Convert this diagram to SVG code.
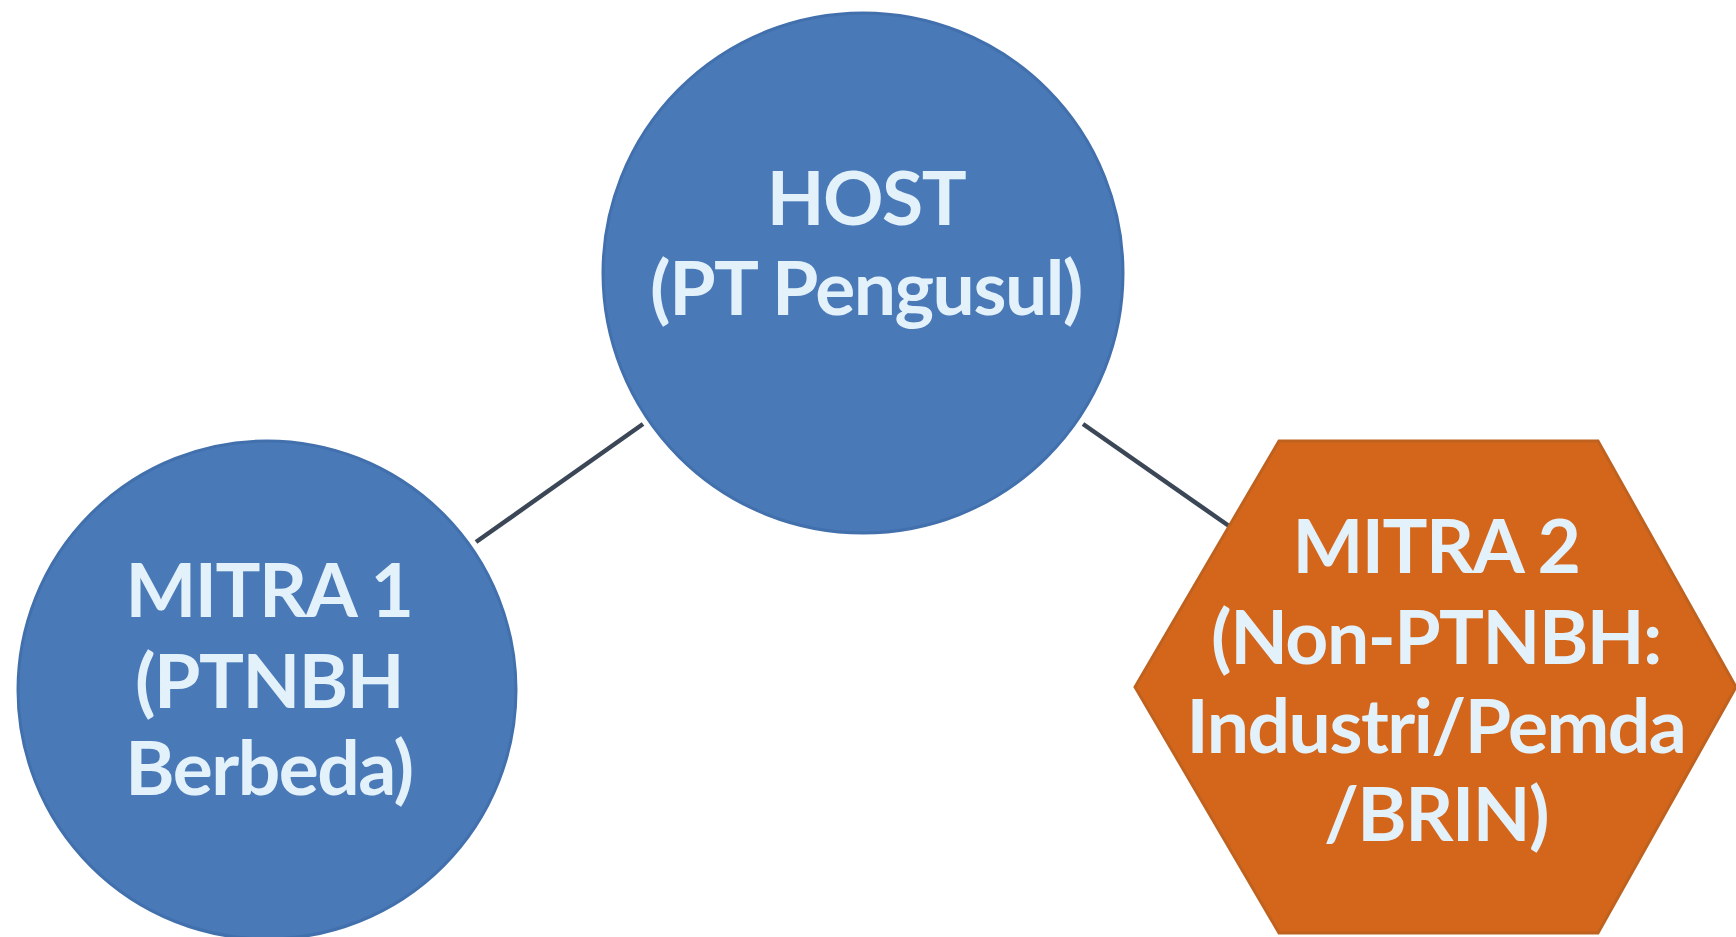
<svg xmlns="http://www.w3.org/2000/svg" width="1736" height="937" viewBox="0 0 1736 937">
<style>
.blue{fill:#4a79b8;stroke:#4270ad;stroke-width:3}
.orange{fill:#d3661b;stroke:#c0621f;stroke-width:3}
.lbl{font-family:Lato,"Open Sans","Liberation Sans",sans-serif;font-weight:bold;font-size:75px;letter-spacing:-1.5px;fill:#e3f1fb;text-anchor:middle}
.edge{stroke:#3b4756;stroke-width:4.5;fill:none}
</style>
<rect width="1736" height="937" fill="#ffffff"/>
<g id="connectors">
<line class="edge" x1="643" y1="424" x2="476" y2="542"/>
<line class="edge" x1="1083" y1="424" x2="1229" y2="526"/>
</g>
<g id="host">
<circle class="blue" cx="863" cy="273" r="260"/>
<text class="lbl" x="866" y="225" font-size="77">HOST</text>
<text class="lbl" x="866" y="315">(PT Pengusul)</text>
</g>
<g id="mitra1">
<circle class="blue" cx="267" cy="690" r="249"/>
<text class="lbl" x="269" y="617">MITRA 1</text>
<text class="lbl" x="269" y="708">(PTNBH</text>
<text class="lbl" x="269" y="795">Berbeda)</text>
</g>
<g id="mitra2">
<polygon class="orange" points="1279,441 1598,441 1736,687 1598,933 1279,933 1135,687"/>
<text class="lbl" x="1436" y="573">MITRA 2</text>
<text class="lbl" x="1436" y="664">(Non-PTNBH:</text>
<text class="lbl" x="1436" y="753">Industri/Pemda</text>
<text class="lbl" x="1436" y="841">/BRIN)</text>
</g>
</svg>
